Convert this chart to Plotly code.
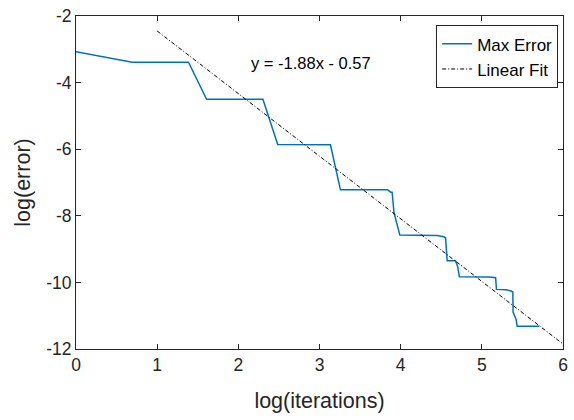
import plotly.graph_objects as go

# Max error versus iteration count, both on a natural-log scale
log_iter = [0.0, 0.693, 1.386, 1.609, 2.303, 2.485, 3.135, 3.258, 3.838, 3.878,
            3.895, 3.918, 3.99, 4.45, 4.53, 4.553, 4.573, 4.675, 4.703, 4.723,
            5.10, 5.12, 5.17, 5.18, 5.30, 5.36, 5.382, 5.385, 5.406, 5.423,
            5.435, 5.707]
log_err = [-3.07, -3.39, -3.39, -4.50, -4.50, -5.86, -5.87, -7.22, -7.22, -7.29,
           -7.29, -7.91, -8.58, -8.59, -8.63, -8.66, -9.35, -9.35, -9.53, -9.83,
           -9.84, -9.85, -9.86, -10.21, -10.22, -10.26, -10.29, -10.89, -11.04, -11.12,
           -11.32, -11.32]

# Least-squares fit line y = slope*x + intercept
slope = -1.88
intercept = -0.57
fit_x = [1.0, 6.0]
fit_y = [slope * v + intercept for v in fit_x]

x_ticks = [0, 1, 2, 3, 4, 5, 6]
y_ticks = [-12, -10, -8, -6, -4, -2]

axis_color = "#262626"
font_family = "Liberation Sans, Arial, sans-serif"

fig = go.Figure()
fig.add_trace(go.Scatter(
    x=log_iter, y=log_err, mode="lines", name="Max Error",
    line=dict(color="#0072BD", width=1.5),
))
fig.add_trace(go.Scatter(
    x=fit_x, y=fit_y, mode="lines", name="Linear Fit",
    line=dict(color="black", width=1, dash="4px,2px,1px,2px"),
))

fig.add_annotation(
    x=2.89, y=-3.42, xref="x", yref="y", showarrow=False,
    text=f"y = {slope:.2f}x - {abs(intercept):.2f}",
    font=dict(family=font_family, size=16.5, color="black"),
)

axis_common = dict(
    showgrid=False, zeroline=False, showline=True, linecolor=axis_color,
    linewidth=1, mirror="ticks", ticks="inside", ticklen=5, tickwidth=1,
    tickcolor=axis_color,
    tickfont=dict(family=font_family, size=17.5, color=axis_color),
)

fig.update_xaxes(
    range=[0, 6], tickvals=x_ticks, ticktext=[str(v) for v in x_ticks],
    title=dict(text="log(iterations)", font=dict(family=font_family, size=21.5, color=axis_color),
               standoff=18),
    **axis_common,
)
fig.update_yaxes(
    range=[-12, -2], tickvals=y_ticks, ticktext=[str(v) for v in y_ticks],
    title=dict(text="log(error)", font=dict(family=font_family, size=21.5, color=axis_color),
               standoff=9),
    **axis_common,
)

fig.update_layout(
    width=574, height=420,
    margin=dict(l=76, r=6, t=13, b=71),
    plot_bgcolor="white", paper_bgcolor="white",
    showlegend=True,
    legend=dict(
        x=0.99, y=0.972, xanchor="right", yanchor="top",
        bgcolor="white", bordercolor=axis_color, borderwidth=1,
        font=dict(family=font_family, size=17, color="black"),
        itemwidth=30, tracegroupgap=0,
    ),
)

fig.write_html("out.html")
